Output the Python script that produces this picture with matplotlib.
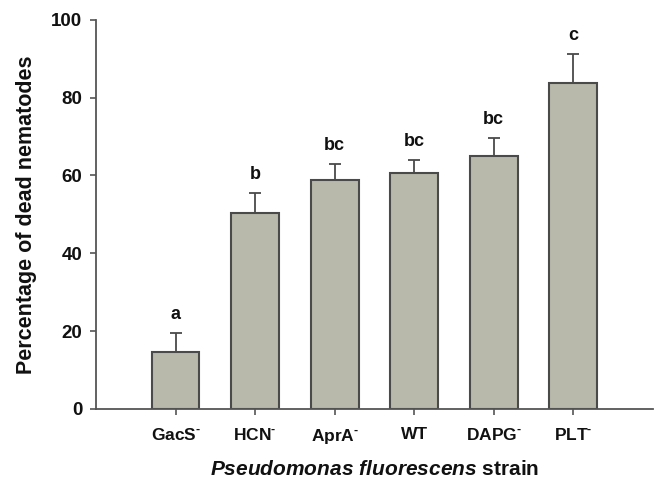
import numpy as np
import matplotlib
matplotlib.use("Agg")
import matplotlib.pyplot as plt

plt.rcParams['font.family'] = ['Liberation Sans', 'DejaVu Sans']
plt.rcParams['mathtext.fontset'] = 'custom'
plt.rcParams['mathtext.rm'] = 'Liberation Sans:bold'
plt.rcParams['mathtext.bf'] = 'Liberation Sans:bold'
plt.rcParams['mathtext.it'] = 'Liberation Sans:italic:bold'

# data
strains = [r'GacS$^{\text{-}}$', r'HCN$^{\text{-}}$', r'AprA$^{\text{-}}$', 'WT',
           r'DAPG$^{\text{-}}$', r'PLT$^{\text{-}}$']
dead_pct = [14.7, 50.4, 58.8, 60.7, 64.9, 83.7]
sem = [4.7, 5.0, 4.1, 3.3, 4.8, 7.6]
groups = ['a', 'b', 'bc', 'bc', 'bc', 'c']


def main():
    fig = plt.figure(figsize=(6.54, 4.84), dpi=100)
    ax = fig.add_axes([0.147, 0.155, 0.851, 0.804])

    x = np.arange(len(strains))
    edge = '#4a4a4a'
    ax.bar(x, dead_pct, width=0.6, color='#b8b8ab', edgecolor=edge, linewidth=1.5,
           zorder=2)
    ax.errorbar(x, dead_pct, yerr=[np.zeros(len(sem)), sem], fmt='none',
                ecolor=edge, elinewidth=1.3, capsize=4.5, capthick=1.3, zorder=1)

    # significance letters above the error bars
    for xi, m, e, g in zip(x, dead_pct, sem, groups):
        ax.text(xi, m + e + 2.6, g, ha='center', va='bottom',
                fontsize=13, fontweight='bold', color='#111111')

    ax.set_xlim(-1, 6)
    ax.set_ylim(0, 100)
    ax.set_yticks([0, 20, 40, 60, 80, 100])
    ax.set_xticks(x)
    ax.set_xticklabels(strains)

    for side in ['top', 'right']:
        ax.spines[side].set_visible(False)
    for side in ['left', 'bottom']:
        ax.spines[side].set_color('#555555')
        ax.spines[side].set_linewidth(1.3)

    ax.tick_params(axis='both', direction='out', length=4, width=1.2,
                   color='#555555', pad=6)
    ax.tick_params(axis='y', labelsize=13.5)
    ax.tick_params(axis='x', labelsize=12.5, pad=9)
    for lab in ax.get_xticklabels() + ax.get_yticklabels():
        lab.set_fontweight('bold')
        lab.set_color('#111111')

    ax.set_ylabel('Percentage of dead nematodes', fontsize=15.5, fontweight='bold',
                  color='#111111', labelpad=10)
    ax.set_xlabel(r'$\it{Pseudomonas\ fluorescens}$ strain', fontsize=15,
                  fontweight='bold', color='#111111', labelpad=10)

    fig.savefig('out.png', dpi=100)


if __name__ == "__main__":
    main()
